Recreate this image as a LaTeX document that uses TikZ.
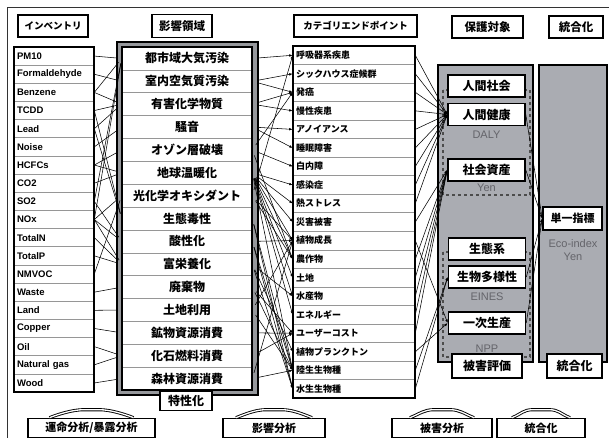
\documentclass[tikz,border=0pt]{standalone}
\usepackage{fontspec}
\setmainfont{Liberation Sans}
\newfontfamily\jp{Noto Sans CJK JP}
\usetikzlibrary{arrows.meta}
\definecolor{panelgray}{RGB}{170,172,178}
\definecolor{bandgray}{RGB}{150,152,156}
\definecolor{labelgray}{RGB}{100,100,106}
\definecolor{rulegray}{RGB}{150,150,150}

\tikzset{
  >={Latex[length=3.5pt,width=2.6pt]},
  hdr/.style={draw, line width=1.6pt, fill=white, inner sep=0pt, font=\jp\bfseries\fontsize{11.5}{12}\selectfont},
  invrow/.style={draw=rulegray, line width=0.6pt, minimum height=18.16pt, text width=74pt, inner sep=3pt, align=left, font=\bfseries\fontsize{9.5}{10}\selectfont},
  catrow/.style={draw=rulegray, line width=0.6pt, minimum height=22.87pt, minimum width=130pt, inner sep=0pt, font=\jp\bfseries\fontsize{12}{13}\selectfont},
  endrow/.style={draw=rulegray, line width=0.6pt, minimum height=18.53pt, text width=116pt, inner sep=3pt, align=left, font=\jp\bfseries\fontsize{9}{10}\selectfont},
  frame/.style={line width=1.8pt},
  pbox/.style={draw, line width=1.6pt, fill=white, minimum width=77pt, minimum height=22pt, inner sep=0pt, font=\jp\bfseries\fontsize{12}{13}\selectfont},
  unit/.style={text=labelgray, inner sep=0pt, font=\fontsize{11}{12}\selectfont},
  wire/.style={line width=0.55pt},
  dashbox/.style={draw=black!70, dashed, line width=1.2pt},
  roofline/.style={line width=0.9pt, double, double distance=1.3pt},
}

% upward roof arrow over a step box
\newcommand{\roofarrow}[2]{%
  \draw[roofline] (#1.north) ++(-#2,0) .. controls +(10,-4) and +(-10,0) .. ++({#2-8},-8)
    -- ++(16,0) .. controls +(10,0) and +(-10,-4) .. ++({#2-8},8);}

\begin{document}
\begin{tikzpicture}[x=1pt, y=-1pt]
  \useasboundingbox (0,0) rectangle (609,438);
  \draw[line width=1pt, black!80] (7,438) -- (7,8) -- (609,8);

  %%%%%%%%%%%%% headers
  \node[hdr, minimum width=70pt, minimum height=22pt, font=\jp\bfseries\fontsize{9.5}{10}\selectfont] (hInv) at (53,26) {インベントリ};
  \node[hdr, minimum width=60pt, minimum height=23pt] (hCat) at (182,26) {影響領域};
  \node[hdr, minimum width=123pt, minimum height=22pt, font=\jp\bfseries\fontsize{9.5}{10}\selectfont] (hEnd) at (355.5,26) {カテゴリエンドポイント};
  \node[hdr, minimum width=71pt, minimum height=22pt] (hPro) at (487.5,27) {保護対象};
  \node[hdr, minimum width=54pt, minimum height=22pt] (hInt) at (576,27) {統合化};

  %%%%%%%%%%%%% inventory
  \foreach \name [count=\k] in {PM10,Formaldehyde,Benzene,TCDD,Lead,Noise,HCFCs,CO2,SO2,NOx,TotalN,TotalP,NMVOC,Waste,Land,Copper,Oil,Natural gas,Wood}
    \node[invrow] (i\k) at (54,{47+(\k-0.5)*18.16}) {\name};
  \draw[frame] (i1.north west) rectangle (i19.south east);

  %%%%%%%%%%%%% impact categories
  \draw[frame, fill=bandgray] (117,42) rectangle (258,395);
  \foreach \name [count=\k] in {都市域大気汚染,室内空気質汚染,有害化学物質,騒音,オゾン層破壊,地球温暖化,光化学オキシダント,生態毒性,酸性化,富栄養化,廃棄物,土地利用,鉱物資源消費,化石燃料消費,森林資源消費}
    \node[catrow, fill=white] (c\k) at (187,{47+(\k-0.5)*22.87}) {\name};
  \draw[frame] (c1.north west) rectangle (c15.south east);
  \node[hdr, minimum width=52pt, minimum height=19pt, font=\jp\bfseries\fontsize{12}{13}\selectfont] (hChar) at (186,401) {特性化};

  %%%%%%%%%%%%% category endpoints
  \foreach \name [count=\k] in {呼吸器系疾患,シックハウス症候群,発癌,慢性疾患,アノイアンス,睡眠障害,白内障,感染症,熱ストレス,災害被害,植物成長,農作物,土地,水産物,エネルギー,ユーザーコスト,植物プランクトン,陸生生物種,水生生物種}
    \node[endrow] (e\k) at (354,{46+(\k-0.5)*18.53}) {\name};
  \draw[frame] (e1.north west) rectangle (e19.south east);

  %%%%%%%%%%%%% protection and integration panels
  \draw[frame, fill=panelgray] (438,65) rectangle (533,362);
  \draw[frame, fill=panelgray] (539,65) rectangle (607,362);
  \draw[dashbox] (443,90) rectangle (530,195);
  \draw[dashbox] (443,252) rectangle (530,357);
  \node[pbox] (p1) at (486.5,86) {人間社会};
  \node[pbox] (p2) at (486.5,114.5) {人間健康};
  \node[unit] (uDaly) at (486.5,135) {DALY};
  \node[pbox] (p3) at (486.5,170) {社会資産};
  \node[unit] (uYen) at (486.5,188) {Yen};
  \node[pbox] (p4) at (487,249) {生態系};
  \node[pbox] (p5) at (487,277) {生物多様性};
  \node[unit] (uEines) at (487,297) {EINES};
  \node[pbox] (p6) at (487,323) {一次生産};
  \node[unit] (uNpp) at (487,349) {NPP};
  \node[hdr, minimum width=70pt, minimum height=24pt, font=\jp\bfseries\fontsize{12}{13}\selectfont] (hDam) at (487,366) {被害評価};
  \node[pbox, minimum width=59pt, minimum height=23pt, font=\jp\bfseries\fontsize{11}{12}\selectfont] (s1) at (572.5,218.5) {単一指標};
  \node[unit, align=center] (uEco) at (573,250) {Eco-index\\[1pt]Yen};
  \node[hdr, minimum width=55pt, minimum height=24pt, font=\jp\bfseries\fontsize{12}{13}\selectfont] (hInt2) at (574.5,366) {統合化};

  %%%%%%%%%%%%% analysis steps
  \node[hdr, minimum width=127pt, minimum height=19pt, font=\jp\bfseries\fontsize{11}{12}\selectfont] (b1) at (91.5,428) {運命分析/暴露分析};
  \node[hdr, minimum width=102pt, minimum height=19pt, font=\jp\bfseries\fontsize{11}{12}\selectfont] (b2) at (274,428) {影響分析};
  \node[hdr, minimum width=100pt, minimum height=19pt, font=\jp\bfseries\fontsize{11}{12}\selectfont] (b3) at (442,428) {被害分析};
  \node[hdr, minimum width=88pt, minimum height=19pt, font=\jp\bfseries\fontsize{11}{12}\selectfont] (b4) at (541,428) {統合化};
  \roofarrow{b1}{42} \roofarrow{b2}{38} \roofarrow{b3}{32} \roofarrow{b4}{29}

  %%%%%%%%%%%%% wires
  \foreach \a/\b in {1/1,2/2,3/1,3/3,4/3,4/8,5/3,5/8,6/4,7/5,7/6,8/6,9/1,9/9,10/1,10/7,10/9,10/10,11/10,12/10,13/7,14/11,15/12,16/13,17/14,18/14,19/15}
    \draw[wire, shorten >=5pt] (i\a.east) -- (c\b.west);
  \foreach \a/\b in {1/1,2/2,2/3,3/3,3/4,4/5,4/6,5/3,5/7,5/12,6/8,6/9,6/10,6/11,6/12,6/13,6/14,6/15,6/18,7/1,7/11,7/12,8/18,8/19,9/11,9/18,9/19,10/14,10/17,10/19,11/16,11/18,12/11,12/18,13/16,14/16,15/11,15/18}
    \draw[wire, ->, shorten <=6pt] (c\a.east) -- (e\b.west);
  \foreach \a/\b in {1/2,2/2,3/2,4/2,5/2,6/2,7/2,8/2,9/2,10/3,12/3,13/3,14/3,15/3,16/3,11/6,17/6,18/5,19/5}
    \draw[wire, ->] (e\a.east) -- (p\b.west);
  \foreach \a in {2,3,5,6}
    \draw[wire, ->] (p\a.east) -- (s1.west);
\end{tikzpicture}
\end{document}
